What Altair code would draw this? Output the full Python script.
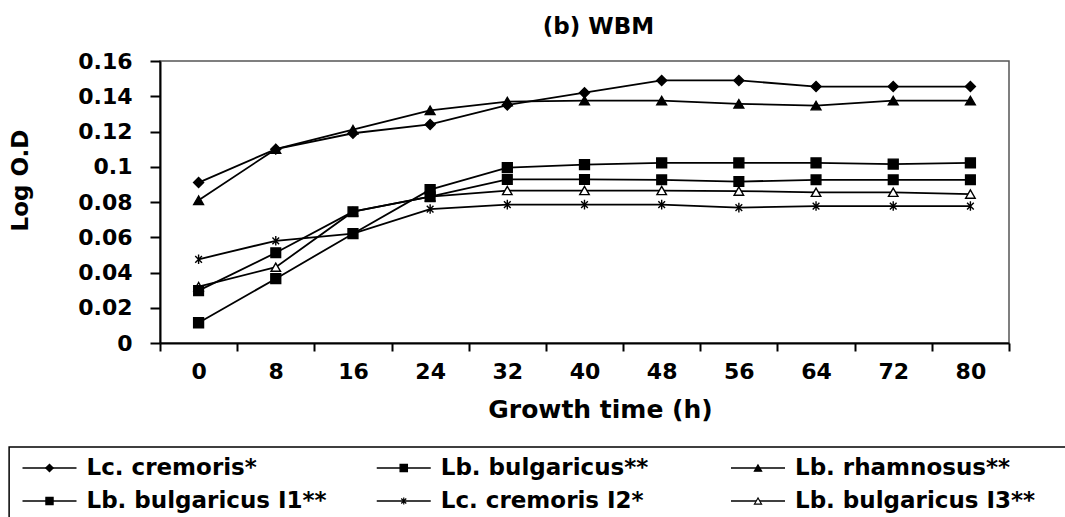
import altair as alt
import pandas as pd

# ---------------- data ----------------
times = ["0", "8", "16", "24", "32", "40", "48", "56", "64", "72", "80"]

series_names = [
    "Lc. cremoris*",
    "Lb. bulgaricus**",
    "Lb. rhamnosus**",
    "Lb. bulgaricus I1**",
    "Lc. cremoris I2*",
    "Lb. bulgaricus I3**",
]

lc_cremoris = [0.091, 0.110, 0.119, 0.124, 0.135, 0.142, 0.149, 0.149, 0.1455, 0.1455, 0.1455]
lb_bulgaricus = [0.0115, 0.0365, 0.062, 0.087, 0.0995, 0.1012, 0.1022, 0.1022, 0.1022, 0.1015, 0.1022]
lb_rhamnosus = [0.081, 0.110, 0.121, 0.132, 0.137, 0.1375, 0.1375, 0.1357, 0.1347, 0.1375, 0.1375]
lb_bulgaricus_i1 = [0.0297, 0.0512, 0.0745, 0.083, 0.0928, 0.0928, 0.0926, 0.0916, 0.0926, 0.0926, 0.0926]
lc_cremoris_i2 = [0.0475, 0.058, 0.062, 0.076, 0.0785, 0.0785, 0.0785, 0.0768, 0.0777, 0.0777, 0.0777]
lb_bulgaricus_i3 = [0.032, 0.043, 0.0745, 0.083, 0.0865, 0.0865, 0.0865, 0.0862, 0.0855, 0.0855, 0.0845]

y_ticks = [0, 0.02, 0.04, 0.06, 0.08, 0.1, 0.12, 0.14, 0.16]

# legend grid (column / row of each entry, in series_names order)
legend_cols = [0, 1, 2, 0, 1, 2]
legend_rows = [0, 0, 0, 1, 1, 1]
# legend frame, in legend-grid units
frame_x = [-0.114]
frame_x2 = [2.9]
frame_y = [-0.636]
frame_y2 = [1.8]

# drawing order (last on top)
draw_order = [
    ("Lc. cremoris*", lc_cremoris),
    ("Lb. rhamnosus**", lb_rhamnosus),
    ("Lb. bulgaricus**", lb_bulgaricus),
    ("Lc. cremoris I2*", lc_cremoris_i2),
    ("Lb. bulgaricus I3**", lb_bulgaricus_i3),
    ("Lb. bulgaricus I1**", lb_bulgaricus_i1),
]

rows = []
for k, (name, vals) in enumerate(draw_order):
    for i, (t, v) in enumerate(zip(times, vals)):
        rows.append({"series": name, "time": t, "value": v, "k": k, "i": i})
df = pd.DataFrame(rows)

legend_df = pd.DataFrame({"series": series_names, "col": legend_cols, "row": legend_rows})
frame_df = pd.DataFrame({"x": frame_x, "x2": frame_x2, "y": frame_y, "y2": frame_y2})

FONT = "DejaVu Sans"
STAR = "M-0.7,-0.7L0.7,0.7M-0.7,0.7L0.7,-0.7M0,-1L0,1"

shape_range = ["diamond", "square", "triangle-up", "square", STAR, "triangle-up"]
fill_range = ["black", "black", "black", "black", "transparent", "white"]
size_plot = [100, 90, 140, 230, 160, 150]
size_legend = [55, 50, 70, 110, 80, 80]

# ---------------- main plot ----------------
x_enc = alt.X(
    "time:N",
    sort=times,
    bandPosition=0.5,
    scale=alt.Scale(type="band", paddingInner=0, paddingOuter=0),
    axis=alt.Axis(
        title="Growth time (h)",
        tickBand="extent",
        labelAngle=0,
        labelFont=FONT,
        labelFontWeight="bold",
        labelFontSize=22,
        labelColor="black",
        labelPadding=10,
        tickSize=8,
        tickWidth=2,
        tickColor="black",
        domainColor="black",
        domainWidth=2,
        titleFont=FONT,
        titleFontWeight="bold",
        titleFontSize=25,
        titleColor="black",
        titleBaseline="middle",
        titleX=440,
        titleY=66,
    ),
)

y_enc = alt.Y(
    "value:Q",
    scale=alt.Scale(domain=[0, 0.16], nice=False),
    axis=alt.Axis(
        title="Log O.D",
        values=y_ticks,
        format="~g",
        grid=False,
        labelFont=FONT,
        labelFontWeight="bold",
        labelFontSize=22,
        labelColor="black",
        labelPadding=18,
        tickSize=10,
        tickWidth=2,
        tickColor="black",
        domainColor="black",
        domainWidth=2,
        titleFont=FONT,
        titleFontWeight="bold",
        titleFontSize=23,
        titleColor="black",
        titleAngle=270,
        titleBaseline="middle",
        titleAlign="center",
        titleX=-140,
        titleY=119,
    ),
)

lines = alt.Chart(df).mark_line(color="black", strokeWidth=1.8).encode(
    x=x_enc, y=y_enc, detail="series:N", order="i:Q"
)

points = alt.Chart(df).mark_point(filled=True, stroke="black", strokeWidth=1.4, opacity=1).encode(
    x=x_enc,
    y=y_enc,
    shape=alt.Shape("series:N", scale=alt.Scale(domain=series_names, range=shape_range), legend=None),
    fill=alt.Fill("series:N", scale=alt.Scale(domain=series_names, range=fill_range), legend=None),
    size=alt.Size("series:N", scale=alt.Scale(domain=series_names, range=size_plot), legend=None),
    order="k:Q",
)

main = alt.layer(lines, points)

# ---------------- legend (own grid scales, placed below the plot) ----------------
LX_SCALE = alt.Scale(domain=[0, 2], range=[-110.5, 598])
LY_SCALE = alt.Scale(domain=[0, 1], range=[407, 440])
lx = alt.X("col:Q", scale=LX_SCALE, axis=None)
ly = alt.Y("row:Q", scale=LY_SCALE, axis=None)

leg_frame = alt.Chart(frame_df).mark_rect(fill="white", fillOpacity=0, stroke="black", strokeWidth=1.5).encode(
    x=alt.X("x:Q", scale=LX_SCALE, axis=None),
    x2="x2:Q",
    y=alt.Y("y:Q", scale=LY_SCALE, axis=None),
    y2="y2:Q",
)

leg_rule = alt.Chart(legend_df).mark_rule(
    color="black", strokeWidth=1.5, xOffset=-27, x2Offset=27
).encode(x=lx, x2="col:Q", y=ly)

leg_pts = alt.Chart(legend_df).mark_point(filled=True, stroke="black", strokeWidth=1.2, opacity=1).encode(
    x=lx,
    y=ly,
    shape=alt.Shape("series:N", scale=alt.Scale(domain=series_names, range=shape_range), legend=None),
    fill=alt.Fill("series:N", scale=alt.Scale(domain=series_names, range=fill_range), legend=None),
    size=alt.Size("series:N", scale=alt.Scale(domain=series_names, range=size_legend), legend=None),
)

leg_txt = alt.Chart(legend_df).mark_text(
    align="left", baseline="middle", dx=37, font=FONT, fontWeight="bold", fontSize=23, color="black"
).encode(x=lx, y=ly, text="series:N")

legend = alt.layer(leg_frame, leg_rule, leg_pts, leg_txt)

chart = alt.layer(main, legend).resolve_scale(
    x="independent", y="independent", shape="independent", fill="independent", size="independent"
).properties(
    width=849,
    height=282,
    autosize=alt.AutoSizeParams(type="none"),
    padding={"left": 160, "top": 61, "right": 56, "bottom": 174},
    background="white",
    title=alt.Title(
        "(b) WBM",
        font=FONT,
        fontSize=23,
        fontWeight="bold",
        color="black",
        anchor="middle",
        frame="group",
        dx=14,
        offset=11,
    ),
    view=alt.ViewBackground(stroke="#555555", strokeWidth=1.5),
)

chart.save("out.html", embed_options={"renderer": "svg", "actions": False})
